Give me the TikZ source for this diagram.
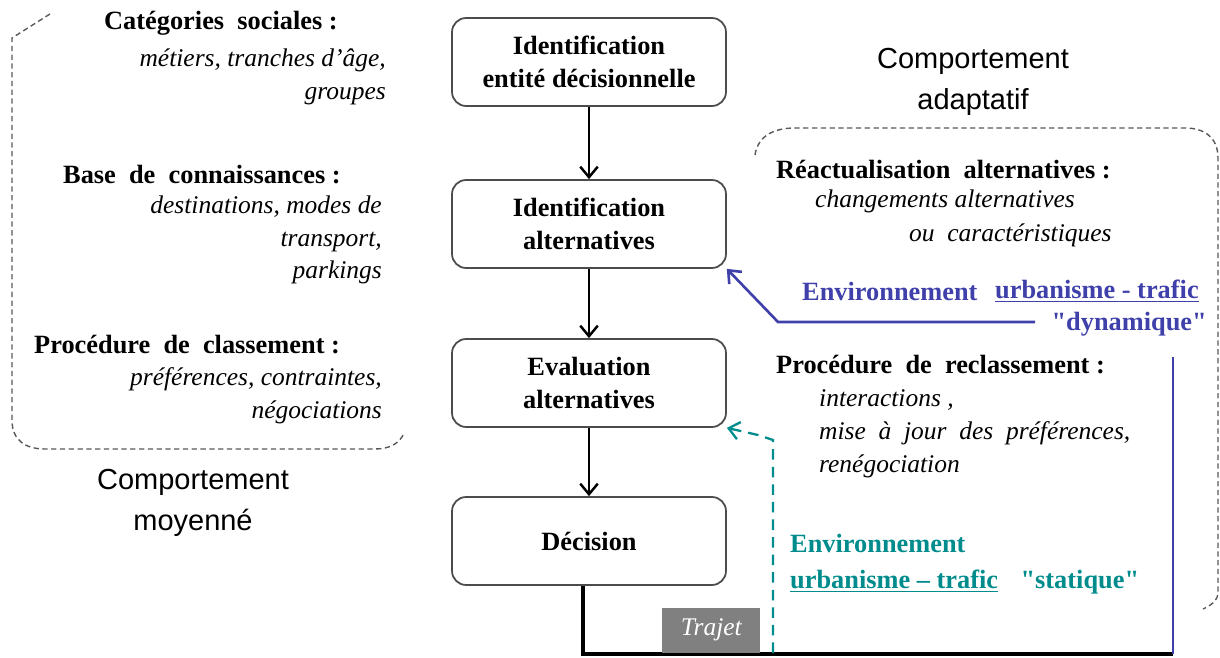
\documentclass[tikz,border=0pt]{standalone}
\usepackage{fontspec}
\setmainfont{Liberation Serif}
\setsansfont{Liberation Sans}
\usetikzlibrary{arrows.meta}

\definecolor{dynblue}{RGB}{64,64,170}
\definecolor{stateal}{RGB}{0,140,140}
\definecolor{trajgray}{RGB}{128,128,128}

\begin{document}
\begin{tikzpicture}[x=0.02cm, y=-0.02cm,
  stepbox/.style={draw=black!70, line width=1pt, rounded corners=8pt,
    minimum width=5.48cm, minimum height=1.76cm, align=center,
    font=\bfseries\fontsize{15}{18.7}\selectfont},
  flow/.style={-{Straight Barb[length=6pt,width=10pt]}, line width=1.4pt},
  head/.style={anchor=west, font=\bfseries\fontsize{15}{18.7}\selectfont},
  body/.style={font=\itshape\fontsize{14.5}{18.7}\selectfont},
  behav/.style={align=center, font=\sffamily\fontsize{16.5}{23}\selectfont},
  zone/.style={draw=black!65, line width=0.8pt, dash pattern=on 3pt off 2pt}]
  \useasboundingbox (0,0) rectangle (1220,658);

  % decision chain
  \node[stepbox] (entite) at (589,62) {Identification\\entité décisionnelle};
  \node[stepbox] (ident) at (589,224) {Identification\\alternatives};
  \node[stepbox] (evalu) at (589,383) {Evaluation\\alternatives};
  \node[stepbox] (decis) at (589,541) {Décision};
  \draw[flow] (entite) -- (ident);
  \draw[flow] (ident) -- (evalu);
  \draw[flow] (evalu) -- (decis);

  % trip loop
  \coordinate (loopend) at (1173,654);
  \coordinate (looptop) at (1173,357);
  \draw[line width=1.8pt] ([xshift=-0.12cm]decis.south) |- (loopend);
  \draw[dynblue, line width=1.4pt] (looptop) -- (loopend);
  \node[fill=trajgray, text=white, anchor=south west, minimum width=1.96cm,
    minimum height=0.9cm, font=\itshape\fontsize{14.5}{17}\selectfont]
    (trajet) at (662,653) {Trajet};

  % feedback arrows
  \coordinate (dynstart) at (1035,322);
  \coordinate (dynknee) at (778,322);
  \draw[dynblue, line width=1.5pt, -{Straight Barb[length=6pt,width=10pt]}]
    (dynstart) -- (dynknee) -- (ident.south east);
  \coordinate (statfoot) at (773,653);
  \draw[stateal, line width=1.3pt, dash pattern=on 6pt off 4pt,
    -{Straight Barb[length=6pt,width=10pt]}]
    (statfoot) -- (773,440) -- (758,435) -- (evalu.south east);

  % averaged behaviour
  \draw[zone] (50,14) -- (12,38) -- (12,420)
    .. controls (12,440) and (25,449) .. (45,449) -- (375,449)
    .. controls (390,449) and (400,443) .. (404,433);
  \node[head] (catsoc) at (98,23) {Catégories\ \ sociales :};
  \node[body, align=right, anchor=east] (catlist) at (392,77)
    {métiers, tranches d’âge,\\groupes};
  \node[head] (basecon) at (57,175) {Base\ \ de\ \ connaissances :};
  \node[body, align=right, anchor=east] (baselist) at (388,240)
    {destinations, modes de\\transport,\\parkings};
  \node[head] (proccl) at (28,345) {Procédure\ \ de\ \ classement :};
  \node[body, align=right, anchor=east] (proclist) at (388,396)
    {préférences, contraintes,\\négociations};
  \node[behav] (moyen) at (193,503) {Comportement\\moyenné};

  % adaptive behaviour
  \node[behav] (adapt) at (973,82) {Comportement\\adaptatif};
  \draw[zone] (755,155) .. controls (758,135) and (775,128) .. (795,128)
    -- (1185,128) .. controls (1205,128) and (1218,138) .. (1218,158)
    -- (1218,592) .. controls (1218,600) and (1212,605) .. (1203,609);
  \node[head] (reactu) at (770,170) {Réactualisation\ \ alternatives :};
  \node[body, anchor=west] (chang) at (809,201) {changements alternatives};
  \node[body, anchor=west] (carac) at (903,235) {ou\ \ caractéristiques};
  \node[head, text=dynblue] (dynenv) at (796,291) {Environnement};
  \node[head, text=dynblue] (dynurb) at (989,291) {\underline{urbanisme - trafic}};
  \node[head, text=dynblue, anchor=east] (dynlbl) at (1213,324)
    {\textquotedbl dynamique\textquotedbl};
  \node[head] (reclas) at (770,365) {Procédure\ \ de\ \ reclassement :};
  \node[body, align=left, anchor=west] (reclist) at (813,434)
    {interactions ,\\mise\ \ à\ \ jour\ \ des\ \ préférences,\\renégociation};
  \node[head, text=stateal, align=left] (statenv) at (784,564)
    {Environnement\\[2pt]\underline{urbanisme – trafic}\hspace{0.45cm}\textquotedbl statique\textquotedbl};
\end{tikzpicture}
\end{document}
